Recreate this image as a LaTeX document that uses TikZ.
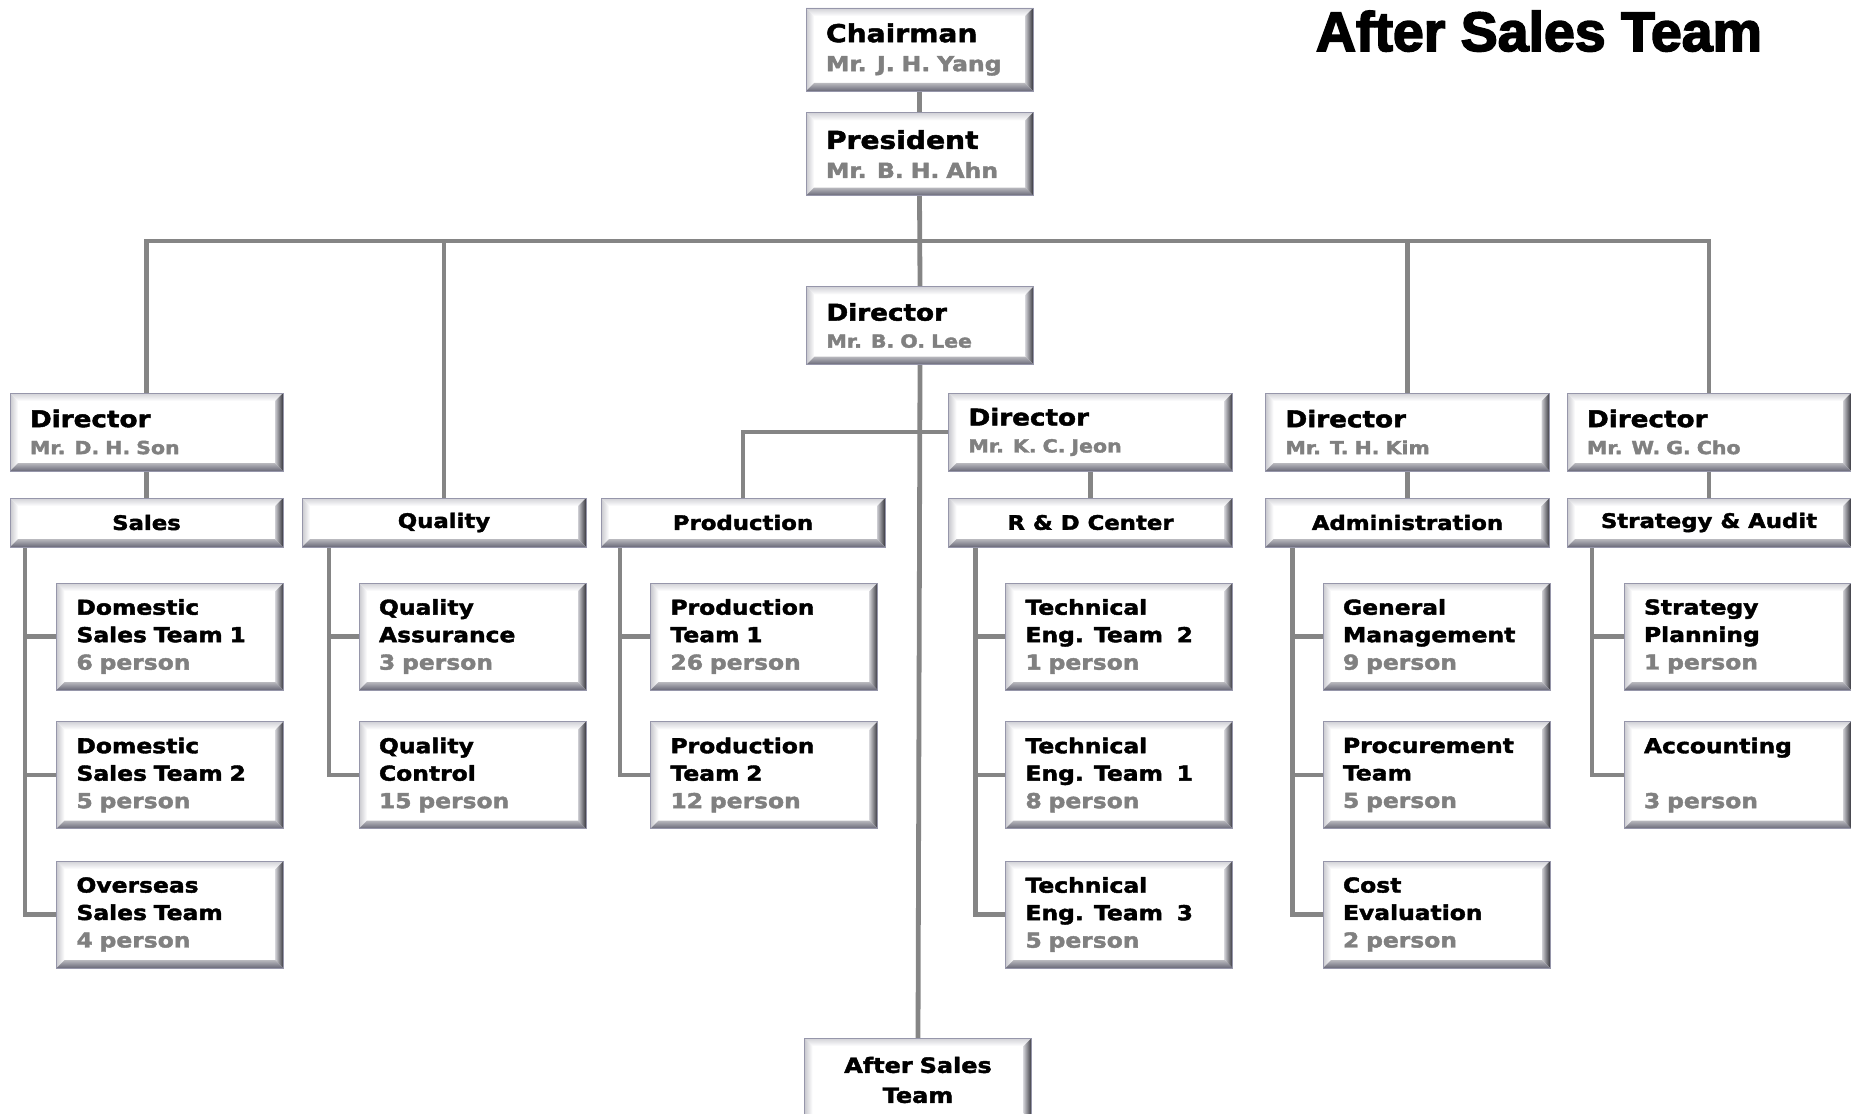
\documentclass[tikz,border=0pt]{standalone}
\usepackage{fontspec}
\setmainfont{DejaVu Sans}[FakeStretch=1.14, BoldFont={DejaVu Sans Bold}, BoldFeatures={FakeBold=2}]
\newfontfamily\titlefont{Liberation Sans}[BoldFont={Liberation Sans Bold}, BoldFeatures={FakeBold=3}]
\usetikzlibrary{calc}

\definecolor{linegray}{RGB}{133,133,133}
\definecolor{namegray}{RGB}{128,128,128}
\definecolor{boxedge}{RGB}{150,150,170}
\definecolor{bevtop}{RGB}{208,208,214}
\definecolor{bevleft}{RGB}{200,200,206}
\definecolor{bevrin}{RGB}{205,205,210}
\definecolor{bevrout}{RGB}{55,55,62}
\definecolor{bevbin}{RGB}{185,185,190}
\definecolor{bevbout}{RGB}{105,105,120}

\newcommand{\toptitle}[1]{{\fontsize{18.5}{21.75}\selectfont #1}}
\newcommand{\dirtitle}[1]{{\fontsize{17.25}{20.25}\selectfont #1}}

\tikzset{every picture/.style={line width=0.75pt}}
\tikzset{
  bevelbox/.style={rectangle, fill=white, inner sep=0pt, outer sep=0pt},
  topbox/.style={bevelbox, minimum width=170.25pt, minimum height=62.25pt, text width=140.25pt, align=left,
    font=\bfseries\fontsize{15.5}{21.75}\selectfont},
  dirbox/.style={bevelbox, minimum width=213pt, minimum height=58.5pt, text width=183pt, align=left,
    font=\bfseries\fontsize{13.5}{20.25}\selectfont},
  deptbox/.style={bevelbox, minimum width=213pt, minimum height=36.75pt, align=center,
    font=\bfseries\fontsize{15}{18}\selectfont},
  teambox/.style={bevelbox, minimum width=170.25pt, minimum height=80.25pt, text width=140.25pt, align=left,
    font=\bfseries\fontsize{15.4}{20.6}\selectfont},
  orgline/.style={draw=linegray, line width=3.6pt},
}

\begin{document}
\begin{tikzpicture}[x=0.75pt,y=0.75pt,yscale=-1,xscale=1]
\useasboundingbox (0,0) rectangle (1851,1113);

% Title
\node (title) [anchor=base west, font=\titlefont\bfseries\fontsize{41.6}{48}\selectfont] at (1311,51) {After Sales Team};

% Top of the chart
\node (chair) [topbox] at (919.5,49.5) {\toptitle{Chairman}\\\textcolor{namegray}{Mr. J. H. Yang}};
\node (pres) [topbox] at (919.5,154) {\toptitle{President}\\\textcolor{namegray}{Mr. B. H. Ahn}};
\node (lee) [dirbox, minimum width=170.25pt, text width=140.25pt] at (920,325.5) {\dirtitle{Director}\\\textcolor{namegray}{Mr. B. O. Lee}};

% Directors
\node (son) [dirbox, minimum width=204.75pt, text width=174.75pt] at (146.5,432) {\dirtitle{Director}\\\textcolor{namegray}{Mr. D. H. Son}};
\node (jeon) [dirbox] at (1090.5,432) {\dirtitle{Director}\\\textcolor{namegray}{Mr. K. C. Jeon}};
\node (kim) [dirbox] at (1407.5,432) {\dirtitle{Director}\\\textcolor{namegray}{Mr. T. H. Kim}};
\node (cho) [dirbox] at (1709,432) {\dirtitle{Director}\\\textcolor{namegray}{Mr. W. G. Cho}};

% Departments
\node (sales) [deptbox, minimum width=204.75pt] at (146.5,522.5) {Sales};
\node (qual) [deptbox] at (444,522.5) {Quality};
\node (prod) [deptbox] at (743,522.5) {Production};
\node (rnd) [deptbox] at (1090.5,522.5) {R \& D Center};
\node (admin) [deptbox] at (1407.5,522.5) {Administration};
\node (strat) [deptbox] at (1709,522.5) {Strategy \& Audit};

% Teams
\node (dst1) [teambox] at (170,636.5) {Domestic\\Sales Team 1\\\textcolor{namegray}{6 person}};
\node (dst2) [teambox] at (170,775) {Domestic\\Sales Team 2\\\textcolor{namegray}{5 person}};
\node (ost) [teambox] at (170,914.5) {Overseas\\Sales Team\\\textcolor{namegray}{4 person}};
\node (qa) [teambox] at (472.5,636.5) {Quality\\Assurance\\\textcolor{namegray}{3 person}};
\node (qc) [teambox] at (472.5,775) {Quality\\Control\\\textcolor{namegray}{15 person}};
\node (pt1) [teambox] at (764,636.5) {Production\\Team 1\\\textcolor{namegray}{26 person}};
\node (pt2) [teambox] at (764,775) {Production\\Team 2\\\textcolor{namegray}{12 person}};
\node (te2) [teambox] at (1119,636.5) {Technical\\Eng. Team~~2\\\textcolor{namegray}{1 person}};
\node (te1) [teambox] at (1119,775) {Technical\\Eng. Team~~1\\\textcolor{namegray}{8 person}};
\node (te3) [teambox] at (1119,914.5) {Technical\\Eng. Team~~3\\\textcolor{namegray}{5 person}};
\node (gm) [teambox] at (1436.5,636.5) {General\\Management\\\textcolor{namegray}{9 person}};
\node (proc) [teambox] at (1436.5,775) {Procurement\\Team\\\textcolor{namegray}{5 person}};
\node (cost) [teambox] at (1436.5,914.5) {Cost\\Evaluation\\\textcolor{namegray}{2 person}};
\node (sp) [teambox] at (1737.5,636.5) {Strategy\\Planning\\\textcolor{namegray}{1 person}};
\node (acc) [teambox] at (1737.5,775) {Accounting\\~\\\textcolor{namegray}{3 person}};

% After sales
\node (after) [topbox, align=center, minimum height=63pt, font=\bfseries\fontsize{15.75}{22.5}\selectfont] at (918,1080) {After Sales\\Team};

% Connectors
\coordinate (bus) at (919,241);
\draw[orgline] (chair.south) -- (pres.north);
\draw[orgline] (pres.south) -- (lee.north);
\draw[orgline] (son.north) -- (son.north |- bus) -- (cho.north |- bus) -- (cho.north);
\draw[orgline] (qual.north) -- (qual.north |- bus);
\draw[orgline] (kim.north) -- (kim.north |- bus);
\draw[orgline] (lee.south) -- (after.north);
\draw[orgline] (jeon.west) -| (prod.north);
\draw[orgline] (son.south) -- (sales.north);
\draw[orgline] (jeon.south) -- (rnd.north);
\draw[orgline] (kim.south) -- (admin.north);
\draw[orgline] (cho.south) -- (strat.north);

% Team trees
\coordinate (salestr) at ($(sales.south west)+(15,0)$);
\coordinate (qualtr) at ($(qual.south west)+(27,0)$);
\coordinate (prodtr) at ($(prod.south west)+(19,0)$);
\coordinate (rndtr) at ($(rnd.south west)+(27,0)$);
\coordinate (admintr) at ($(admin.south west)+(27,0)$);
\coordinate (strattr) at ($(strat.south west)+(25,0)$);
\draw[orgline] (salestr) |- (ost.west);
\draw[orgline] (dst1.west -| salestr) -- (dst1.west);
\draw[orgline] (dst2.west -| salestr) -- (dst2.west);
\draw[orgline] (qualtr) |- (qc.west);
\draw[orgline] (qa.west -| qualtr) -- (qa.west);
\draw[orgline] (prodtr) |- (pt2.west);
\draw[orgline] (pt1.west -| prodtr) -- (pt1.west);
\draw[orgline] (rndtr) |- (te3.west);
\draw[orgline] (te2.west -| rndtr) -- (te2.west);
\draw[orgline] (te1.west -| rndtr) -- (te1.west);
\draw[orgline] (admintr) |- (cost.west);
\draw[orgline] (gm.west -| admintr) -- (gm.west);
\draw[orgline] (proc.west -| admintr) -- (proc.west);
\draw[orgline] (strattr) |- (acc.west);
\draw[orgline] (sp.west -| strattr) -- (sp.west);

% Bevels
\foreach \b in {chair,pres,lee,son,jeon,kim,cho,sales,qual,prod,rnd,admin,strat,
    dst1,dst2,ost,qa,qc,pt1,pt2,te2,te1,te3,gm,proc,cost,sp,acc,after}{
  \coordinate (nw) at (\b.north west);
  \coordinate (ne) at (\b.north east);
  \coordinate (sw) at (\b.south west);
  \coordinate (se) at (\b.south east);
  \shade[top color=bevtop, bottom color=white] (nw) -- (ne) -- ($(ne)+(-8,8)$) -- ($(nw)+(8,8)$) -- cycle;
  \shade[left color=bevleft, right color=white] (nw) -- ($(nw)+(8,8)$) -- ($(sw)+(8,-8)$) -- (sw) -- cycle;
  \shade[left color=bevrin, right color=bevrout] (ne) -- (se) -- ($(se)+(-8,-8)$) -- ($(ne)+(-8,8)$) -- cycle;
  \shade[top color=bevbin, bottom color=bevbout] (sw) -- (se) -- ($(se)+(-8,-8)$) -- ($(sw)+(8,-8)$) -- cycle;
  \draw[boxedge, line width=0.6pt] (nw) rectangle (se);
}
\end{tikzpicture}
\end{document}
